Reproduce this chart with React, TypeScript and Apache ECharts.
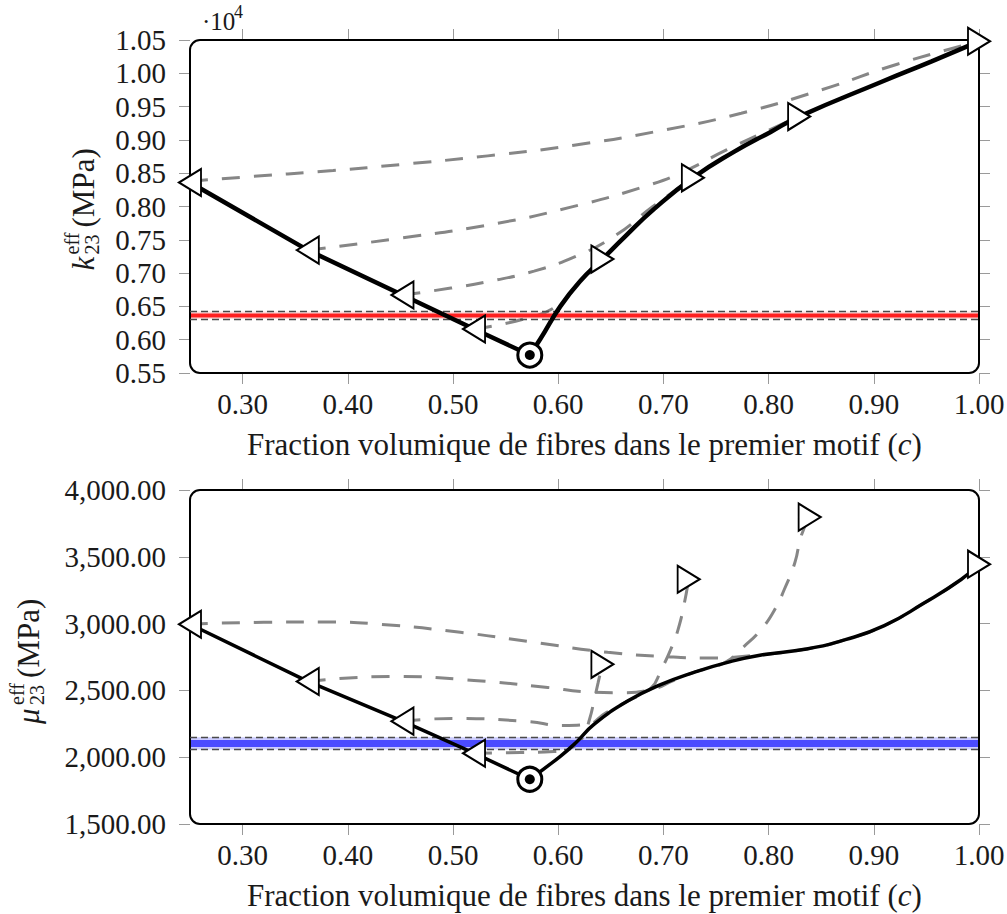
import React, { useEffect, useRef } from "react";
import * as echarts from "echarts";

const FONT = "Liberation Serif";
const TXT = "#1a1a1a";

// x ticks (fraction c)
const cTicks = [0.3, 0.4, 0.5, 0.6, 0.7, 0.8, 0.9, 1.0];

// ---------- top panel: k23 eff (MPa) ----------
const kLeftC = [0.25, 0.362, 0.452, 0.52];
const kLeftV = [8360, 7345, 6670, 6160];
const kOptC = [0.573];
const kOptV = [5770];
const kRightC = [0.642, 0.728, 0.829, 1.0];
const kRightV = [7210, 8430, 9350, 10480];
const kCurveC = [0.573, 0.583, 0.602, 0.621, 0.642, 0.663, 0.691, 0.728, 0.767, 0.802, 0.829, 0.907, 0.955, 1.0];
const kCurveV = [5770, 6010, 6500, 6880, 7210, 7540, 7960, 8430, 8820, 9120, 9350, 9870, 10180, 10480];
const kD1C = [0.25, 0.3, 0.386, 0.45, 0.533, 0.615, 0.698, 0.774, 0.85, 0.923, 1.0];
const kD1V = [8380, 8440, 8540, 8630, 8760, 8920, 9140, 9400, 9750, 10140, 10480];
const kD2C = [0.362, 0.45, 0.536, 0.612, 0.688, 0.723, 0.76, 0.829];
const kD2V = [7345, 7525, 7730, 7990, 8330, 8550, 8850, 9350];
const kD3C = [0.452, 0.498, 0.536, 0.577, 0.615, 0.653, 0.69, 0.728];
const kD3V = [6670, 6775, 6880, 7030, 7240, 7550, 8000, 8430];
const kD4C = [0.52, 0.567, 0.599, 0.621, 0.642];
const kD4V = [6160, 6310, 6510, 6880, 7210];
const kRef = [6310, 6362, 6425]; // low, mean, high
const kTicksY = { min: 5500, max: 10500, step: 500 };

// ---------- bottom panel: mu23 eff (MPa) ----------
const mLeftC = [0.25, 0.362, 0.452, 0.52];
const mLeftV = [2995, 2567, 2270, 2030];
const mOptC = [0.573];
const mOptV = [1835];
const mRightC = [0.642, 0.724, 0.839, 1.0];
const mRightV = [2695, 3332, 3797, 3445];
const mCurveC = [0.573, 0.602, 0.617, 0.634, 0.666, 0.698, 0.729, 0.761, 0.793, 0.836, 0.873, 0.91, 0.947, 0.983, 1.0];
const mCurveV = [1835, 2007, 2110, 2245, 2420, 2545, 2635, 2710, 2765, 2810, 2880, 2985, 3150, 3330, 3445];
const mD1C = [0.25, 0.32, 0.38, 0.431, 0.507, 0.577, 0.647, 0.698, 0.745, 0.78, 0.836, 0.873, 0.91, 0.947, 0.983, 1.0];
const mD1V = [2995, 3010, 3012, 2995, 2935, 2860, 2785, 2755, 2742, 2758, 2810, 2880, 2985, 3150, 3330, 3445];
const mD2C = [0.362, 0.443, 0.52, 0.59, 0.625, 0.66, 0.69, 0.71, 0.729, 0.758, 0.777, 0.793, 0.806, 0.815, 0.825, 0.831, 0.839];
const mD2V = [2567, 2605, 2575, 2522, 2490, 2482, 2510, 2575, 2635, 2707, 2832, 2957, 3107, 3257, 3457, 3657, 3797];
const mD3C = [0.452, 0.5, 0.571, 0.605, 0.627, 0.645, 0.666, 0.688, 0.698, 0.707, 0.714, 0.72, 0.724];
const mD3V = [2270, 2290, 2267, 2237, 2245, 2330, 2420, 2515, 2657, 2807, 2957, 3157, 3332];
const mD4C = [0.52, 0.564, 0.596, 0.615, 0.624, 0.63, 0.634, 0.638, 0.642];
const mD4V = [2030, 2035, 2042, 2080, 2160, 2290, 2420, 2560, 2695];
const mRef = [2057, 2102, 2150];
const mTicksY = { min: 1500, max: 4000, step: 500 };

// ---------- layout ----------
const GRID_L = 190;
const GRID_W = 789;
const TOP = { top: 40, height: 333 };
const BOT = { top: 490, height: 334 };

const pairs = (xs: number[], ys: number[]) => xs.map((x, i) => [x, ys[i]]);

function xAxis(gridIndex: number, position: string, main: boolean) {
  return {
    type: "value",
    gridIndex,
    position,
    min: 0.25,
    max: 1.0,
    axisLine: { show: false },
    splitLine: { show: false },
    axisTick: { show: true, customValues: cTicks, length: 11, lineStyle: { color: "#9a9a9a", width: 1 } },
    axisLabel: {
      show: main,
      customValues: cTicks,
      formatter: (v: number) => v.toFixed(2),
      fontFamily: FONT,
      fontSize: 29,
      color: TXT,
      margin: 16,
    },
    name: main ? "Fraction volumique de fibres dans le premier motif ({it|c})" : "",
    nameLocation: "middle",
    nameGap: 56,
    nameTextStyle: {
      fontFamily: FONT,
      fontSize: 31,
      color: TXT,
      rich: { it: { fontFamily: FONT, fontSize: 31, fontStyle: "italic", color: TXT } },
    },
  };
}

function yAxis(gridIndex: number, position: string, main: boolean, t: any, fmt: (v: number) => string) {
  return {
    type: "value",
    gridIndex,
    position,
    min: t.min,
    max: t.max,
    interval: t.step,
    axisLine: { show: false },
    splitLine: { show: false },
    axisTick: { show: true, length: 11, lineStyle: { color: "#9a9a9a", width: 1 } },
    axisLabel: { show: main, formatter: fmt, fontFamily: FONT, fontSize: 29, color: TXT, margin: 24 },
  };
}

function panel(xi: number, yi: number, d: any, lw: number, band: any) {
  const dashed = (data: number[][]) => ({
    type: "line",
    xAxisIndex: xi,
    yAxisIndex: yi,
    data,
    smooth: 0.5,
    symbol: "none",
    clip: false,
    lineStyle: { color: "#868686", width: 3, type: [18, 14] },
    z: 2,
  });
  return [
    ...d.dashes.map((p: number[][]) => dashed(p)),
    {
      type: "line",
      xAxisIndex: xi,
      yAxisIndex: yi,
      data: [
        [0.25, band.ref[1]],
        [1.0, band.ref[1]],
      ],
      symbol: "none",
      clip: false,
      lineStyle: { color: band.line, width: band.width },
      z: 3,
      markArea: {
        silent: true,
        itemStyle: { color: band.fill },
        data: [[{ yAxis: band.ref[0] }, { yAxis: band.ref[2] }]],
      },
      markLine: {
        silent: true,
        symbol: "none",
        label: { show: false },
        lineStyle: { color: "#4a4a4a", width: 1.3, type: [7, 4] },
        data: [{ yAxis: band.ref[0] }, { yAxis: band.ref[2] }],
      },
    },
    {
      type: "line",
      xAxisIndex: xi,
      yAxisIndex: yi,
      data: [...d.left, ...d.opt],
      symbol: "none",
      clip: false,
      lineStyle: { color: "#000", width: lw },
      z: 6,
    },
    {
      type: "line",
      xAxisIndex: xi,
      yAxisIndex: yi,
      data: d.curve,
      smooth: 0.5,
      symbol: "none",
      clip: false,
      lineStyle: { color: "#000", width: lw },
      z: 6,
    },
    {
      type: "scatter",
      xAxisIndex: xi,
      yAxisIndex: yi,
      data: d.left,
      symbol: "triangle",
      symbolSize: [27, 22],
      symbolRotate: 90,
      clip: false,
      itemStyle: { color: "#fff", borderColor: "#000", borderWidth: 2, opacity: 1 },
      z: 8,
    },
    {
      type: "scatter",
      xAxisIndex: xi,
      yAxisIndex: yi,
      data: d.right,
      symbol: "triangle",
      symbolSize: [27, 22],
      symbolRotate: -90,
      clip: false,
      itemStyle: { color: "#fff", borderColor: "#000", borderWidth: 2, opacity: 1 },
      z: 8,
    },
    {
      type: "scatter",
      xAxisIndex: xi,
      yAxisIndex: yi,
      data: d.opt,
      symbol: "circle",
      symbolSize: 24,
      clip: false,
      itemStyle: { color: "#fff", borderColor: "#000", borderWidth: 3, opacity: 1 },
      z: 8,
    },
    {
      type: "scatter",
      xAxisIndex: xi,
      yAxisIndex: yi,
      data: d.opt,
      symbol: "circle",
      symbolSize: 10,
      clip: false,
      itemStyle: { color: "#000", opacity: 1 },
      z: 9,
    },
  ];
}

function tx(text: string, x: number, y: number, size: number, italic = false) {
  return {
    type: "text",
    x,
    y,
    style: {
      text,
      font: `${italic ? "italic " : ""}${size}px ${FONT}`,
      fill: TXT,
      align: "left",
      textAlign: "left",
      verticalAlign: "middle",
      textVerticalAlign: "middle",
    },
  };
}

export default function App() {
  const ref = useRef<HTMLDivElement>(null);
  useEffect(() => {
    if (!ref.current) return;
    const chart = echarts.init(ref.current, null, { renderer: "svg" });
    const topData = {
      left: pairs(kLeftC, kLeftV),
      opt: pairs(kOptC, kOptV),
      right: pairs(kRightC, kRightV),
      curve: pairs(kCurveC, kCurveV),
      dashes: [pairs(kD1C, kD1V), pairs(kD2C, kD2V), pairs(kD3C, kD3V), pairs(kD4C, kD4V)],
    };
    const botData = {
      left: pairs(mLeftC, mLeftV),
      opt: pairs(mOptC, mOptV),
      right: pairs(mRightC, mRightV),
      curve: pairs(mCurveC, mCurveV),
      dashes: [pairs(mD1C, mD1V), pairs(mD2C, mD2V), pairs(mD3C, mD3V), pairs(mD4C, mD4V)],
    };
    const fmtK = (v: number) => (v / 1e4).toFixed(2);
    const fmtM = (v: number) =>
      v.toLocaleString("en-US", { minimumFractionDigits: 2, maximumFractionDigits: 2 });

    chart.setOption({
      animation: false,
      backgroundColor: "#fff",
      textStyle: { fontFamily: FONT },
      grid: [
        { left: GRID_L, width: GRID_W, top: TOP.top, height: TOP.height, outerBoundsMode: "none" },
        { left: GRID_L, width: GRID_W, top: BOT.top, height: BOT.height, outerBoundsMode: "none" },
      ],
      xAxis: [xAxis(0, "bottom", true), xAxis(0, "top", false), xAxis(1, "bottom", true), xAxis(1, "top", false)],
      yAxis: [
        yAxis(0, "left", true, kTicksY, fmtK),
        yAxis(0, "right", false, kTicksY, fmtK),
        yAxis(1, "left", true, mTicksY, fmtM),
        yAxis(1, "right", false, mTicksY, fmtM),
      ],
      graphic: [
        {
          type: "rect",
          z: 5,
          shape: { x: GRID_L, y: TOP.top, width: GRID_W, height: TOP.height, r: 10 },
          style: { fill: "none", stroke: "#000", lineWidth: 2 },
        },
        {
          type: "rect",
          z: 5,
          shape: { x: GRID_L, y: BOT.top, width: GRID_W, height: BOT.height, r: 10 },
          style: { fill: "none", stroke: "#000", lineWidth: 2 },
        },
        tx("·10", 202, 21, 25),
        tx("4", 234, 12, 18),
        {
          type: "group",
          x: 83,
          y: TOP.top + TOP.height / 2,
          rotation: Math.PI / 2,
          children: [tx("k", -64, 0, 31, true), tx("eff", -48, -11, 20), tx("23", -48, 9, 20), tx("(MPa)", -21, 0, 31)],
        },
        {
          type: "group",
          x: 28,
          y: BOT.top + BOT.height / 2,
          rotation: Math.PI / 2,
          children: [tx("μ", -67, 0, 31, true), tx("eff", -48, -11, 20), tx("23", -48, 9, 20), tx("(MPa)", -21, 0, 31)],
        },
      ],
      series: [
        ...panel(0, 0, topData, 4.5, { ref: kRef, line: "#ff2020", width: 4, fill: "rgba(255,90,90,0.22)" }),
        ...panel(2, 2, botData, 3.5, { ref: mRef, line: "#4b4bff", width: 7, fill: "rgba(110,110,255,0.35)" }),
      ],
    });
    return () => chart.dispose();
  }, []);
  return <div ref={ref} style={{ position: "fixed", left: 0, top: 0, width: 1007, height: 914 }} />;
}
